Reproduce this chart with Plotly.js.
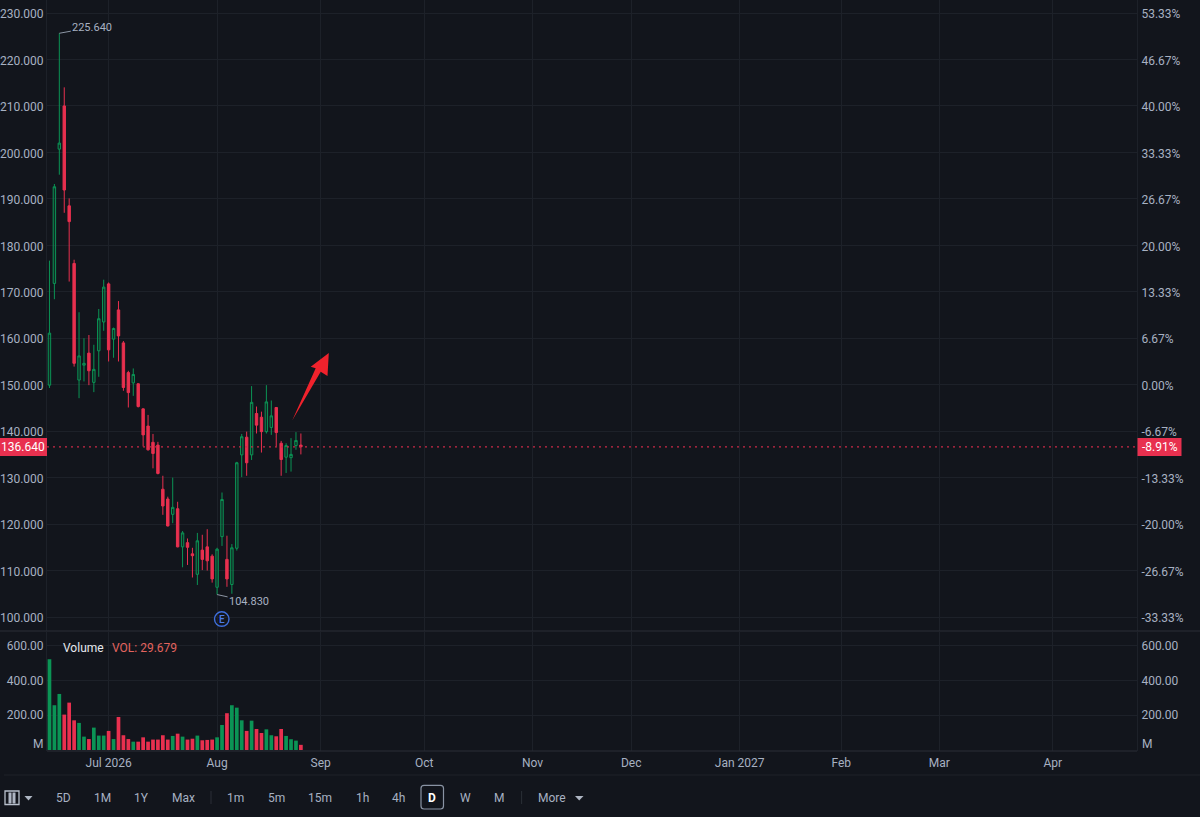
<!DOCTYPE html>
<html>
<head>
<meta charset="utf-8">
<script src="https://cdn.plot.ly/plotly-3.0.1.min.js"></script>
<style>
  html, body { margin: 0; padding: 0; background: #12151c; }
  #myPlot { width: 1200px; height: 817px; }
</style>
</head>
<body>
<div id="myPlot"></div>
<script>
// daily candles
const opens = [149.9,171.8,200.7,210,188.5,176.1,151.0,154.2,156.8,150.5,157.3,163.5,171.7,159.8,166.1,159,152.6,150.4,150.2,144.8,141.1,137.6,137,127.5,125.4,122.1,123.3,115.1,116,113.6,109.2,114.4,115.1,113.1,106.4,117.3,112.4,107,114.8,134.9,138.7,134.9,143.8,143,139.9,140.8,145.1,137.4,134.4,134.3,136.9,137];
const highs = [176.7,193.2,225.64,214,190.1,176.9,165.6,160,160.7,158.6,166.3,172.6,172,162.3,168,159.4,153,153.5,150.3,144.9,143.5,139.4,137.7,130.4,125.9,130,124.8,118.5,116.9,114.9,118.1,117.7,118.9,113.5,114.9,126.8,117.5,115.7,133.4,139.4,139.9,149.7,145.3,144.2,149.9,146.6,145.2,137.9,137.4,138.5,139.8,139.5];
const lows = [149.3,168.4,195.2,187,172.2,153.9,147.1,150.7,149.9,148.4,151.7,161.6,155,155.8,155,148.7,145.1,147.6,145.1,136.7,135.8,132,130.7,122,119.5,120.2,115,110.7,111.2,108.5,106.9,110.1,110,107.4,104.83,115.3,106.5,105,114.3,130.1,130.4,133.8,139.5,135.4,139.5,139.2,136.7,130.4,131,131.3,136,135];
const closes = [161.1,192.6,202,191.9,185.1,154.6,156.2,154.6,153,153.3,164.2,171,157.5,162.1,160.5,149.4,148.3,152.2,145.3,139.2,136,135.2,130.9,123.9,119.6,123.6,115.1,118.1,115,113.2,116.4,112.4,112.1,108.2,114.6,125.3,108.2,114.9,133.2,138.8,133.2,146.2,141.3,139.9,146.3,143.3,139.7,133.9,136.9,135,138,136.64];
const volumes = [523,258,323,204,273,171,156,77,63,129,83,83,110,63,190,85,63,48,48,73,48,60,60,85,60,81,94,77,60,65,83,56,58,60,73,144,212,258,244,171,110,169,121,98,119,85,79,121,81,62,54,29.679];

const priceTicks = [100,110,120,130,140,150,160,170,180,190,200,210,220,230];
const volTicks = [200,400,600];
const monthSlots = [12,34,55,76,98,118,140,160.6,180.5,203.5];
const monthLabels = ['Jul 2026','Aug','Sep','Oct','Nov','Dec','Jan 2027','Feb','Mar','Apr'];
const basePrice = 150;
const lastPrice = 136.64;

const toolbarLabels = ['5D','1M','1Y','Max','1m','5m','15m','1h','4h','D','W','M','More'];
const toolbarCentres = [63,102,141,183,235,276,320,362,398,432,465,499,552];

const bg = '#12151c', grid = '#1d2129', txt = '#a7b1c2', green = '#0b9455', red = '#e8304f';
const W = 1200, plotL = 47, plotR = 1137, plotB = 751;
const idx = opens.map((_, i) => i);

// pixel -> paper, for the chrome around the plot
const px = x => (x - plotL) / (plotR - plotL);
const py = y => (plotB - y) / plotB;
const pt = (x, y) => px(x).toFixed(5) + ',' + py(y).toFixed(5);
const poly = pts => 'M' + pts.map(p => pt(p[0], p[1])).join('L') + 'Z';

function label(x, y, text, color, size, anchor, weight) {
  return {xref: 'paper', yref: 'paper', x: px(x), y: py(y), text: text, showarrow: false,
    xanchor: anchor || 'center', yanchor: 'middle', font: {family: 'Roboto', size: size || 12, color: color || txt, weight: weight || 400}};
}
function rect(x0, y0, x1, y1, fill, line) {
  return {type: 'rect', xref: 'paper', yref: 'paper', x0: px(x0), x1: px(x1), y0: py(y0), y1: py(y1),
    fillcolor: fill || 'rgba(0,0,0,0)', line: {color: line || 'rgba(0,0,0,0)', width: line ? 1 : 0}};
}
function hline(x0, x1, y, color) {
  return {type: 'line', xref: 'paper', yref: 'paper', x0: px(x0), x1: px(x1), y0: py(y), y1: py(y), line: {color: color, width: 1}};
}
function fillPath(pts, color) {
  return {type: 'path', xref: 'paper', yref: 'paper', path: poly(pts), fillcolor: color, line: {width: 0}};
}

let data1 = [
  {type: 'candlestick', x: idx, open: opens, high: highs, low: lows, close: closes, xaxis: 'x', yaxis: 'y',
    increasing: {line: {color: green, width: 1}, fillcolor: 'rgba(11,148,85,0.18)'},
    decreasing: {line: {color: red, width: 1}, fillcolor: red},
    whiskerwidth: 0, hoverinfo: 'skip', showlegend: false},
  {type: 'bar', x: idx, y: volumes, xaxis: 'x', yaxis: 'y2', hoverinfo: 'skip', showlegend: false,
    marker: {color: idx.map(i => closes[i] >= opens[i] ? green : red), line: {width: 0}}},
  // empty traces, only so the two right hand axes get drawn
  {type: 'scatter', mode: 'none', x: [0], y: [basePrice], xaxis: 'x', yaxis: 'y3', hoverinfo: 'skip', showlegend: false},
  {type: 'scatter', mode: 'none', x: [0], y: [0], xaxis: 'x', yaxis: 'y4', hoverinfo: 'skip', showlegend: false}
];

const priceRange = [96.99, 232.8];
const volRange = [-5.8, 680];
const tickFont = {family: 'Roboto', size: 12, color: txt};
const mainDomain = [py(631), 1], volDomain = [0, py(632)];

const pctText = v => ((v - basePrice) / basePrice * 100).toFixed(2) + '%';

let shapes = [
  hline(plotL, plotR, 751, '#2b2f37'),
  hline(0, W, 631, '#2b2f37'),
  hline(4, W, 775, '#1f2329'),
  {type: 'line', xref: 'paper', yref: 'y', x0: 0, x1: 1, y0: lastPrice, y1: lastPrice, line: {color: '#c92a47', width: 1.2, dash: '2px,4px'}},
  rect(0, 438, 47, 456, red),
  rect(1137.5, 438, 1181.5, 456, red),
  // hand drawn red arrow
  fillPath([[292.2,420.5],[315.7,368.3],[310.7,366.7],[328.8,353],[327.5,376],[320.7,371.7]], '#f0222c'),
  // earnings marker
  {type: 'circle', xref: 'paper', yref: 'paper', x0: px(214.5), x1: px(229), y0: py(611.8), y1: py(626.3), fillcolor: 'rgba(0,0,0,0)', line: {color: '#3f6fdc', width: 1.4}},
  // toolbar: layout icon, carets, separators, active button
  {type: 'rect', xref: 'paper', yref: 'paper', x0: px(5), x1: px(19), y0: py(791), y1: py(804.5), fillcolor: 'rgba(0,0,0,0)', line: {color: '#b8c0cc', width: 1.3}},
  rect(8.5, 792.5, 15.5, 803.5, '#aeb6c3'),
  {type: 'line', xref: 'paper', yref: 'paper', x0: px(12), x1: px(12), y0: py(792), y1: py(804), line: {color: bg, width: 1}},
  fillPath([[24.5,796],[32.5,796],[28.5,800.5]], '#aeb6c3'),
  fillPath([[575,796],[583.5,796],[579.2,800.5]], '#aeb6c3'),
  {type: 'line', xref: 'paper', yref: 'paper', x0: px(211), x1: px(211), y0: py(791), y1: py(804), line: {color: '#2b2f37', width: 1}},
  {type: 'line', xref: 'paper', yref: 'paper', x0: px(521.6), x1: px(521.6), y0: py(791), y1: py(804), line: {color: '#2b2f37', width: 1}},
  {type: 'path', xref: 'paper', yref: 'paper', line: {color: '#8993a3', width: 1.2}, fillcolor: 'rgba(0,0,0,0)',
    path: 'M' + pt(424,785.3) + 'L' + pt(440.5,785.3) + 'Q' + pt(443.5,785.3) + ' ' + pt(443.5,788.3) + 'L' + pt(443.5,806) + 'Q' + pt(443.5,809) + ' ' + pt(440.5,809) +
      'L' + pt(424,809) + 'Q' + pt(421,809) + ' ' + pt(421,806) + 'L' + pt(421,788.3) + 'Q' + pt(421,785.3) + ' ' + pt(424,785.3) + 'Z'}
];

let annotations = [
  {x: 2, y: 225.64, xref: 'x', yref: 'y', text: '225.640', showarrow: true, arrowhead: 0, arrowwidth: 1, arrowcolor: '#8c95a4', ax: 33, ay: -6, font: {family: 'Roboto', size: 11, color: txt}},
  {x: 34, y: 104.83, xref: 'x', yref: 'y', text: '104.830', showarrow: true, arrowhead: 0, arrowwidth: 1, arrowcolor: '#8c95a4', ax: 32, ay: 7, font: {family: 'Roboto', size: 11, color: txt}},
  label(221.7, 619.3, 'E', '#4a7bea', 10, 'center', 500),
  label(61, 648, 'Volume', '#e6e9ee', 12, 'left'),
  label(110, 648, 'VOL: 29.679', '#e2645f', 12, 'left'),
  label(45, 743.7, 'M', txt, 12, 'right'),
  label(1140, 743.7, 'M', txt, 12, 'left'),
  label(22.5, 447.2, lastPrice.toFixed(3), '#ffffff', 12),
  label(1159.5, 447.2, pctText(lastPrice), '#ffffff', 12)
];
toolbarLabels.forEach((t, i) => {
  annotations.push(label(toolbarCentres[i], 798, t, t === 'D' ? '#ffffff' : txt, 12, 'center', t === 'D' ? 700 : 400));
});

let layout = {
  width: 1200, height: 817,
  margin: {l: plotL, r: W - plotR, t: 0, b: 817 - plotB, pad: 0},
  paper_bgcolor: bg, plot_bgcolor: bg,
  showlegend: false, bargap: 0.25, dragmode: false,
  font: {family: 'Roboto', size: 12, color: txt},
  xaxis: {domain: [0, 1], anchor: 'y2', range: [-0.5, 220.6], rangeslider: {visible: false},
    tickmode: 'array', tickvals: monthSlots, ticktext: monthLabels, tickangle: 0, ticklen: 0, tickfont: tickFont, ticklabelstandoff: 3,
    showgrid: true, gridcolor: grid, gridwidth: 1, zeroline: false, showline: false, fixedrange: true},
  yaxis: {domain: mainDomain, anchor: 'x', range: priceRange, side: 'left',
    tickmode: 'array', tickvals: priceTicks, ticktext: priceTicks.map(v => v.toFixed(3)), ticklen: 0, tickfont: tickFont, ticklabelshift: 1,
    showgrid: true, gridcolor: grid, zeroline: false, showline: true, linecolor: grid, fixedrange: true},
  yaxis2: {domain: volDomain, anchor: 'x', range: volRange, side: 'left',
    tickmode: 'array', tickvals: volTicks, ticktext: volTicks.map(v => v.toFixed(2)), ticklen: 0, tickfont: tickFont,
    showgrid: true, gridcolor: grid, zeroline: false, showline: true, linecolor: grid, fixedrange: true},
  yaxis3: {overlaying: 'y', anchor: 'x', side: 'right', range: priceRange,
    tickmode: 'array', tickvals: priceTicks, ticktext: priceTicks.map(pctText), ticklen: 0, tickfont: tickFont, ticklabelshift: 1, ticklabelstandoff: 1,
    showgrid: false, zeroline: false, showline: true, linecolor: grid, fixedrange: true},
  yaxis4: {overlaying: 'y2', anchor: 'x', side: 'right', range: volRange,
    tickmode: 'array', tickvals: volTicks, ticktext: volTicks.map(v => v.toFixed(2)), ticklen: 0, tickfont: tickFont, ticklabelstandoff: 1,
    showgrid: false, zeroline: false, showline: true, linecolor: grid, fixedrange: true},
  shapes: shapes,
  annotations: annotations
};

Plotly.newPlot('myPlot', data1, layout, {displayModeBar: false, staticPlot: true});
</script>
</body>
</html>
